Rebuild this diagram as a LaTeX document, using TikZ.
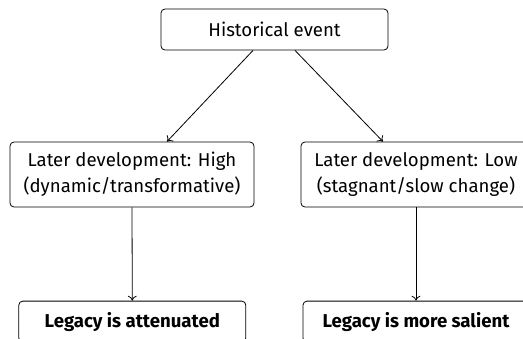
\documentclass[tikz,border=0pt]{standalone}
\usepackage{fontspec}
\setmainfont{Fira Sans}
\usetikzlibrary{calc,arrows.meta}
\begin{document}
\begin{tikzpicture}[x=1pt,y=-1pt,
  box/.style={draw, rounded corners=4pt, line width=0.8pt, align=center, inner sep=0pt,
    font=\fontsize{18.6}{26}\selectfont},
  bbox/.style={box, font=\fontsize{18.6}{26}\selectfont\bfseries},
  conn/.style={line width=0.8pt, -{To[length=5pt,width=9pt]}}]
\useasboundingbox (0,0) rectangle (523,338);
\node[box, minimum width=227pt, minimum height=41pt] (top) at (274.5,29.5) {Historical event};
\node[box, minimum width=244pt, minimum height=65pt] (hi) at (132,174.5) {Later development: High\\(dynamic/transformative)};
\node[box, minimum width=230pt, minimum height=65pt] (lo) at (416,174.5) {Later development: Low\\(stagnant/slow change)};
\node[bbox, minimum width=227pt, minimum height=41pt, anchor=north] (att) at (132.3,300.7) {Legacy is attenuated};
\node[bbox, minimum width=226pt, minimum height=41pt, anchor=north] (sal) at (416,300.7) {Legacy is more salient};
\draw[conn] ($(top.south)+(-21.5,0)$) -- ($(hi.north)+(35,0)$);
\draw[conn] ($(top.south)+(20.5,0)$) -- ($(lo.north)+(-33,0)$);
\draw[conn] (hi.south) -- (att.north);
\draw[conn] (lo.south) -- (sal.north);
\end{tikzpicture}
\end{document}
